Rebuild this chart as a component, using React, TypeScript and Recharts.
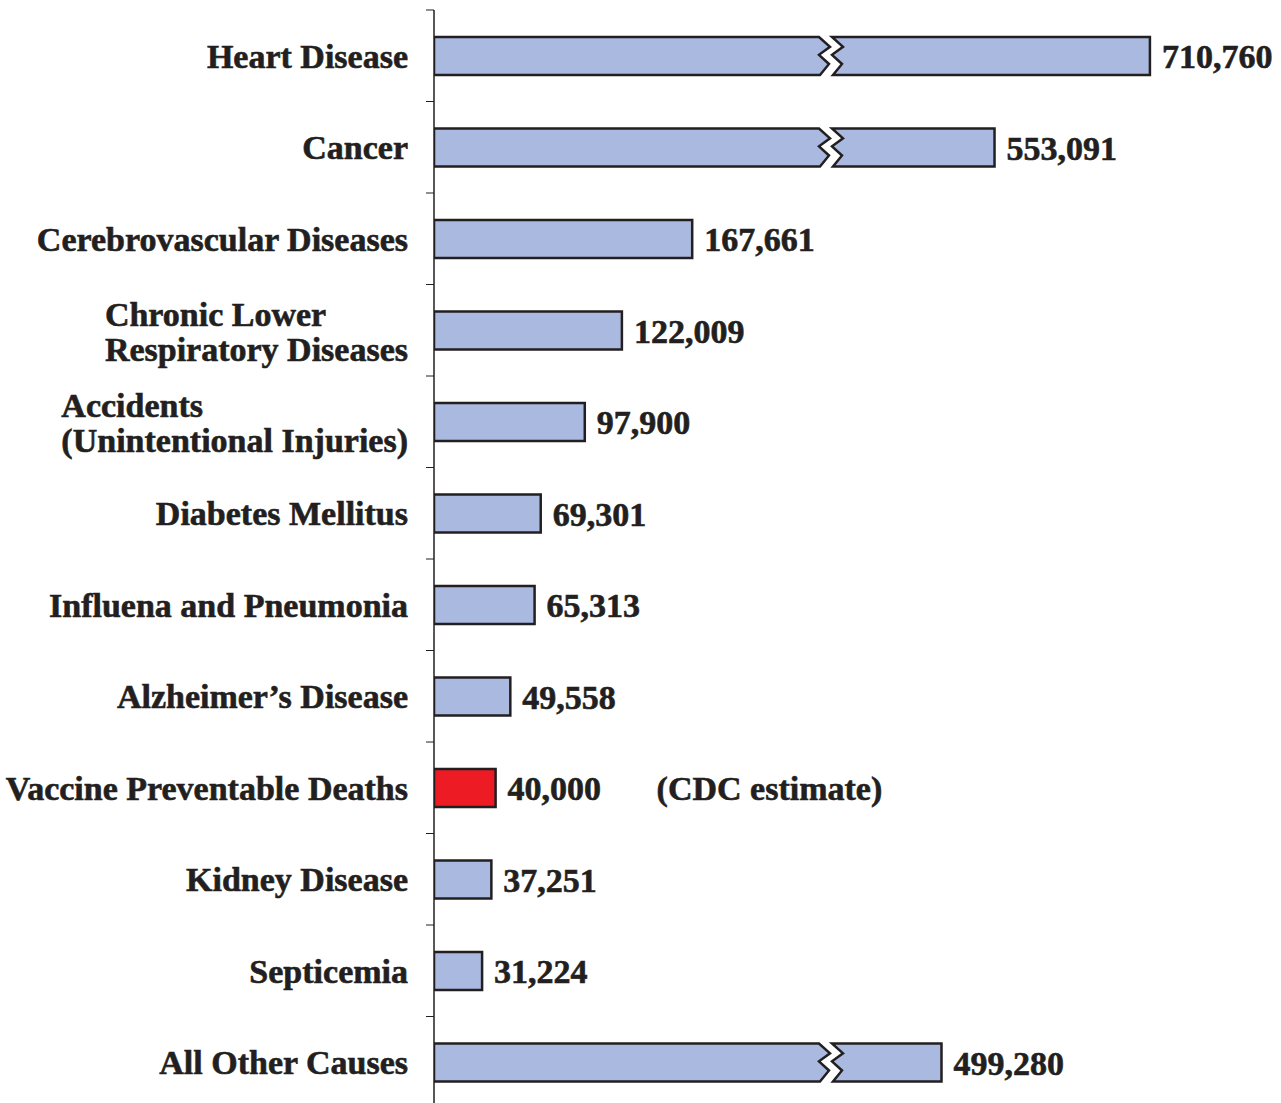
import { BarChart, Bar, XAxis, YAxis, LabelList } from 'recharts'

const causes = [
  'Heart Disease',
  'Cancer',
  'Cerebrovascular Diseases',
  'Chronic Lower\nRespiratory Diseases',
  'Accidents\n(Unintentional Injuries)',
  'Diabetes Mellitus',
  'Influena and Pneumonia',
  'Alzheimer\u2019s Disease',
  'Vaccine Preventable Deaths',
  'Kidney Disease',
  'Septicemia',
  'All Other Causes',
]
const deaths = [710760, 553091, 167661, 122009, 97900, 69301, 65313, 49558, 40000, 37251, 31224, 499280]
const highlighted = 'Vaccine Preventable Deaths'
const highlightNote = '(CDC estimate)'

// broken axis: values past BREAK_AT skip to RESUME_AT and are compressed
const BREAK_AT = 250000
const RESUME_AT = 375000
const COMPRESS = 0.64
const X_MAX = 550000

const INK = '#231f20'
const BLUE = '#aab9df'
const RED = '#ed1c24'
const FONT = '"Liberation Serif", "Times New Roman", Times, serif'
const FONT_SIZE = 34
const Y_AXIS_WIDTH = 434

const toAxis = (v: number) => (v <= BREAK_AT ? v : BREAK_AT + (v - RESUME_AT) * COMPRESS)

const rows = causes.map((name, i) => ({ name, deaths: deaths[i], plot: toAxis(deaths[i]) }))

let ctx: CanvasRenderingContext2D | null = null
const measure = (s: string) => {
  if (!ctx) ctx = document.createElement('canvas').getContext('2d')
  if (!ctx) return s.length * FONT_SIZE * 0.5
  ctx.font = `bold ${FONT_SIZE}px ${FONT}`
  return ctx.measureText(s).width
}

// zigzag of the break, as [dx, fraction of height]
const zig = [
  [0, 0],
  [11, 0.26],
  [0, 0.47],
  [10, 0.71],
  [1, 1],
]
const GAP = 13

const textStyle = {
  fontFamily: FONT,
  fontWeight: 'bold' as const,
  fontSize: FONT_SIZE,
  fill: INK,
  stroke: INK,
  strokeWidth: 0.6,
}

const BarShape = (props: any) => {
  const { x, y, width, height, payload } = props
  const fill = payload.name === highlighted ? RED : BLUE
  if (payload.deaths <= BREAK_AT) {
    return <rect x={x} y={y} width={width} height={height} fill={fill} stroke={INK} strokeWidth={2.5} />
  }
  const xb = x + (width * BREAK_AT) / payload.plot
  const edge = (shift: number) => zig.map(([dx, f]) => `${xb + shift + dx},${y + f * height}`)
  const left = `M${x},${y} L${edge(0).join(' L')} L${x},${y + height} Z`
  const right = `M${x + width},${y} L${x + width},${y + height} L${edge(GAP).reverse().join(' L')} Z`
  return (
    <g>
      <path d={left} fill={fill} stroke={INK} strokeWidth={2.5} />
      <path d={right} fill={fill} stroke={INK} strokeWidth={2.5} />
    </g>
  )
}

const CategoryTick = (props: any) => {
  const { y, payload } = props
  const half = payload?.offset ?? 45.6
  const endX = Y_AXIS_WIDTH - 26
  const lines = String(payload.value).split('\n')
  const lineH = 35
  const blockW = Math.max(...lines.map(measure))
  const startX = endX - blockW
  const top = y + 12 - ((lines.length - 1) * lineH) / 2 + (lines.length > 1 ? 1 : 0)
  return (
    <g>
      <line x1={Y_AXIS_WIDTH - 8} x2={Y_AXIS_WIDTH} y1={y - half} y2={y - half} stroke={INK} strokeWidth={1} />
      {lines.map((l, i) => (
        <text
          key={i}
          x={lines.length > 1 ? startX : endX}
          y={top + i * lineH}
          textAnchor={lines.length > 1 ? 'start' : 'end'}
          {...textStyle}
        >
          {l}
        </text>
      ))}
    </g>
  )
}

const ValueLabel = (props: any) => {
  const { x, y, width, height, value, index } = props
  const lx = x + width + 12
  const ly = y + height / 2 + 12
  return (
    <g>
      <text x={lx} y={ly} {...textStyle}>
        {Number(value).toLocaleString('en-US')}
      </text>
      {causes[index] === highlighted && (
        <text x={lx + 149} y={ly} {...textStyle}>
          {highlightNote}
        </text>
      )}
    </g>
  )
}

export default function App() {
  return (
    <div style={{ width: 1281, height: 1103, overflow: 'hidden', background: '#fff' }}>
      <style>{'body{margin:0;}'}</style>
      <BarChart
        width={1281}
        height={1108}
        data={rows}
        layout="vertical"
        margin={{ top: 10, right: 0, bottom: 0, left: 0 }}
        barSize={38}
      >
        <XAxis type="number" domain={[0, X_MAX]} hide allowDataOverflow />
        <YAxis
          type="category"
          dataKey="name"
          width={Y_AXIS_WIDTH}
          interval={0}
          axisLine={{ stroke: INK, strokeWidth: 1.5 }}
          tickLine={false}
          tick={<CategoryTick />}
        />
        <Bar dataKey="plot" shape={<BarShape />} isAnimationActive={false}>
          <LabelList dataKey="deaths" content={<ValueLabel />} />
        </Bar>
      </BarChart>
    </div>
  )
}
